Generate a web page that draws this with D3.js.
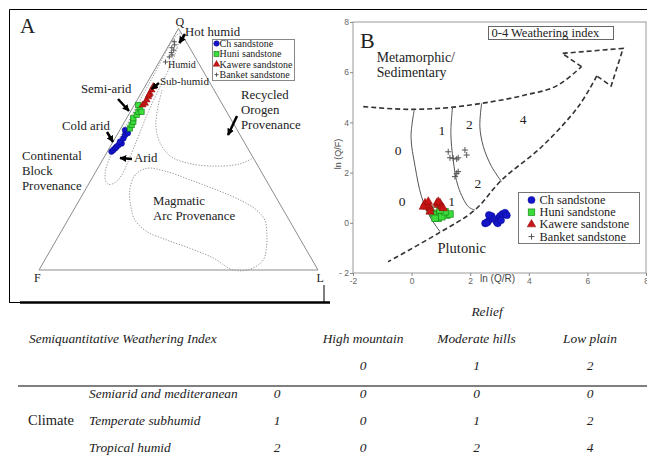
<!DOCTYPE html>
<html>
<head>
<meta charset="utf-8">
<script src="https://cdn.jsdelivr.net/npm/d3@7"></script>
<style>
body { margin: 0; background: #fff; }
svg { display: block; font-family: "Liberation Serif", "Times New Roman", serif; }
</style>
</head>
<body>
<svg width="647" height="465"></svg>
<script>
// Panel A: QFL ternary, values are [Q, F, L] in %
var chA = [[49,49.5,1.5],[49.7,48.5,1.8],[50.4,47.5,2.1],[51,46.7,2.3],[51.7,45.7,2.6],[52.4,44.2,3.4],
           [53.1,44.4,2.5],[54.5,42.5,3],[55.9,41.2,2.9],[57.2,40,2.8],[57.9,40.2,1.9],[56.7,39.8,3.5]];
var huniA = [[58.6,38.1,3.3],[60,36.8,3.2],[61.4,35.5,3.1],[62.8,34.8,2.4],[64.2,32.9,2.9],[65.5,31.6,2.9],
             [66.9,30.4,2.7],[68.3,30.3,1.4],[65.5,30.5,4]];
var kawereA = [[68.3,28.7,3],[69,27.5,3.5],[70.4,26.2,3.4],[71.7,25,3.3],[73.1,23.7,3.2],[74.5,22.4,3.1],
               [75.9,21.1,3],[72.4,24.4,3.2]];
var banketA = [[94.5,4.3,1.2],[93.2,4.8,2],[92,6.4,1.6],[91,6.2,2.8],[90,7.6,2.4],[89,7.8,3.2],
               [88.2,9.2,2.6],[86.1,11.6,2.3]];

// provenance / climate fields, [Q, L] in %
var fieldClimate = [[98,1.5],[92,3.5],[85,4.8],[75,5.5],[65,6.5],[55,8],[45,9.5],[39,10],[36,9],
                    [35.5,7],[37.5,5],[42,3],[50,1.8],[65,1.2],[80,0.8],[96,0.5]];
var fieldOrogen = [[74.5,6.9],[67.5,8.9],[59.2,12.3],[52.6,17.1],[47.2,23.4],[44.3,30.9],[43,40.9],
                   [43.9,50],[46.4,53.6]];
var fieldArc = [[42.1,17.6],[39.3,14.8],[33.1,16],[26.1,19.9],[20.7,24],[15.9,30.7],[12.4,39.6],[9,49.6],
                [4.9,60.1],[0,69.6],[0.3,75.4],[4.1,78.3],[10.4,76.4],[15.3,74],[20.7,70.6],[24.8,65.6],
                [29,57.5],[33.1,47.2],[37.3,35.5],[40.7,25.5]];

// Panel B: [ln(Q/R), ln(Q/F)]
var chB = [[2.51,-0.02],[2.6,0.04],[2.68,0.14],[2.73,0.27],[2.64,0.31],[2.9,0.04],[2.96,0.18],[3.02,0.27],
           [3.1,0.35],[3.19,0.4],[2.94,-0.02],[2.56,0],[3.25,0.3],[3.05,0.1]];
var huniB = [[0.74,0.38],[0.86,0.31],[0.97,0.38],[1.08,0.38],[1.2,0.31],[1.31,0.35],[0.91,0.18],[0.8,0.18],
             [1.03,0.24],[1.14,0.44],[0.63,0.51],[0.97,0.51]];
var kawereB = [[0.46,0.78],[0.57,0.71],[0.52,0.64],[0.63,0.58],[0.63,0.44],[0.86,0.78],[0.91,0.71],
               [0.97,0.78],[1.03,0.64],[0.4,0.64],[0.57,0.84],[0.91,0.84],[1.08,0.58]];
var banketB = [[1.25,2.83],[1.31,2.59],[1.42,2.57],[1.54,2.54],[1.59,2.59],[1.82,2.9],[1.88,2.7],
               [1.48,1.84],[1.59,2.04],[1.54,1.97]];

var topBoundary = [[-1.65,4.63],[0,4.52],[1.37,4.6],[2.39,4.76],[3.87,5.09],[5,5.49],[5.8,6.22]];
var arrowHead = [[5.8,6.22],[5.14,6.75],[7.22,6.95],[6.81,5.45],[6.32,5.85]];
var lowBoundary = [[6.32,5.85],[5.69,4.63],[4.44,3.03],[3.07,1.7],[2.16,0.51],[0.91,-0.42],[-0.8,-1.55]];
var line01 = [[0.09,4.49],[-0.02,3.43],[0.12,2.24],[0.34,1.04],[0.63,0.24],[0.97,-0.35]];
var line12 = [[1.4,4.65],[1.34,3.57],[1.42,2.5],[1.59,1.44],[1.94,0.64],[2.16,0.51]];
var line24 = [[2.39,4.76],[2.33,3.83],[2.45,3.03],[2.73,2.24],[3.07,1.64]];
var indexLabels = [["0",-0.46,2.9],["1",1.03,3.66],["2",1.97,3.9],["4",3.81,4.12],
                   ["0",-0.32,0.84],["1",1.37,0.84],["2",2.26,1.57]];
var bTicks = [-2,0,2,4,6,8];

// table
var reliefCols = ["High mountain", "Moderate hills", "Low plain"];
var reliefIdx = [0, 1, 2];
var climateRows = ["Semiarid and mediteranean", "Temperate subhumid", "Tropical humid"];
var climateIdx = [0, 1, 2];
var indexTable = [[0,0,0],[0,1,2],[0,2,4]];

var seriesNames = ["Ch sandstone", "Huni sandstone", "Kawere sandstone", "Banket sandstone"];
var seriesTypes = ["circle", "square", "triangle", "cross"];

function marker(g, type, x, y, s) {
    if (type == "circle") {
        g.append("circle").attr("cx", x).attr("cy", y).attr("r", s * 0.55)
            .attr("fill", "#1414c8").attr("stroke", "#0a0a90").attr("stroke-width", 0.5);
    } else if (type == "square") {
        g.append("rect").attr("x", x - s / 2).attr("y", y - s / 2).attr("width", s).attr("height", s)
            .attr("fill", "#3ddc3d").attr("stroke", "#178a17").attr("stroke-width", 0.7);
    } else if (type == "triangle") {
        g.append("path").attr("d", d3.symbol().type(d3.symbolTriangle).size(s * s * 0.75)())
            .attr("transform", "translate(" + x + "," + y + ")")
            .attr("fill", "#c81414").attr("stroke", "#8a0c0c").attr("stroke-width", 0.5);
    } else {
        var h = s * 0.5;
        g.append("path").attr("d", "M" + (x - h) + "," + y + "H" + (x + h) + "M" + x + "," + (y - h) + "V" + (y + h))
            .attr("stroke", "#555").attr("stroke-width", 1).attr("fill", "none");
    }
}

function label(g, txt, x, y, size, anchor) {
    return g.append("text").attr("x", x).attr("y", y).attr("font-size", size + "px")
        .attr("text-anchor", anchor || "start").attr("fill", "#222").text(txt);
}

function main() {
    var svg = d3.select("svg");
    svg.append("rect").attr("width", 647).attr("height", 465).attr("fill", "#fff");

    var defs = svg.append("defs");
    defs.append("marker").attr("id", "ah").attr("viewBox", "0 0 10 10").attr("refX", 9).attr("refY", 5)
        .attr("markerWidth", 7).attr("markerHeight", 7).attr("markerUnits", "userSpaceOnUse")
        .attr("orient", "auto")
        .append("path").attr("d", "M0,0L10,5L0,10z").attr("fill", "#000");

    // frame lines
    svg.append("path").attr("d", "M9.5,302V9.5H647").attr("stroke", "#000").attr("fill", "none");
    svg.append("line").attr("x1", 20).attr("x2", 330).attr("y1", 302.5).attr("y2", 302.5)
        .attr("stroke", "#000").attr("stroke-width", 2.5);
    svg.append("line").attr("x1", 9).attr("x2", 20).attr("y1", 302.5).attr("y2", 302.5).attr("stroke", "#000");
    svg.append("line").attr("x1", 324).attr("x2", 324).attr("y1", 285).attr("y2", 302).attr("stroke", "#000");

    // ---------- panel A ----------
    var gA = svg.append("g");
    var tx = d3.scaleLinear().domain([0, 100]).range([39, 318]);
    var ty = d3.scaleLinear().domain([0, 100]).range([270, 28.4]);
    function proj(q, l) { return [tx(l + q / 2), ty(q)]; }

    gA.append("path")
        .attr("d", d3.line()([proj(100, 0), proj(0, 0), proj(0, 100)]) + "Z")
        .attr("fill", "none").attr("stroke", "#8c8c8c").attr("stroke-width", 1);

    var fieldLine = d3.line().x(function (d) { return proj(d[0], d[1])[0]; })
        .y(function (d) { return proj(d[0], d[1])[1]; });
    [[fieldClimate, d3.curveCatmullRomClosed], [fieldArc, d3.curveCatmullRomClosed], [fieldOrogen, d3.curveCatmullRom]]
        .forEach(function (f) {
            gA.append("path").attr("d", fieldLine.curve(f[1])(f[0]))
                .attr("fill", "none").attr("stroke", "#9a9a9a").attr("stroke-width", 1)
                .attr("stroke-dasharray", "1.3,1.5");
        });

    var setsA = [chA, huniA, kawereA, banketA];
    setsA.forEach(function (set, i) {
        set.forEach(function (d) {
            var p = proj(d[0], d[2]);
            marker(gA, seriesTypes[i], p[0], p[1], i == 3 ? 5 : 5.3);
        });
    });

    // annotation arrows
    var arrowsA = [[185,34,179.5,43],[159,83,151.5,89],[118,99,129,111],[107,132,113,142],[132,159,120,158],[237,116,228,135]];
    arrowsA.forEach(function (a) {
        gA.append("line").attr("x1", a[0]).attr("y1", a[1]).attr("x2", a[2]).attr("y2", a[3])
            .attr("stroke", "#000").attr("stroke-width", 2.5).attr("marker-end", "url(#ah)");
    });

    label(gA, "A", 20, 33, 21);
    label(gA, "Q", 175.5, 25.5, 12);
    label(gA, "F", 34, 281.5, 12);
    label(gA, "L", 316.5, 281.5, 12);
    label(gA, "Hot humid", 185, 36, 12.8);
    label(gA, "Humid", 168, 67.5, 10);
    label(gA, "Sub-humid", 160, 84.5, 11);
    label(gA, "Semi-arid", 81, 93, 12.8);
    label(gA, "Cold arid", 62, 129.5, 12.8);
    label(gA, "Arid", 134, 162, 12.8);
    ["Continental", "Block", "Provenance"].forEach(function (t, i) { label(gA, t, 22, 159.5 + i * 15, 12.8); });
    ["Recycled", "Orogen", "Provenance"].forEach(function (t, i) { label(gA, t, 241, 98.5 + i * 15.3, 12.8); });
    label(gA, "Magmatic", 153, 205, 12.8);
    label(gA, "Arc Provenance", 153, 219.5, 12.8);

    var legA = gA.append("g");
    legA.append("rect").attr("x", 212.5).attr("y", 39.5).attr("width", 82).attr("height", 41)
        .attr("fill", "#fff").attr("stroke", "#888");
    seriesNames.forEach(function (n, i) {
        var yy = 43.5 + i * 10.4;
        marker(legA, seriesTypes[i], 216.5, yy, i == 3 ? 4 : 5);
        label(legA, n, 219.5, yy + 3.3, 10);
    });

    // ---------- panel B ----------
    var gB = svg.append("g");
    var bx = d3.scaleLinear().domain([-2, 8]).range([353, 646]);
    var by = d3.scaleLinear().domain([-2, 8]).range([273, 22]);

    gB.append("rect").attr("x", 353).attr("y", 22).attr("width", 293).attr("height", 251)
        .attr("fill", "none").attr("stroke", "#9a9a9a");

    var yAxis = gB.append("g").attr("transform", "translate(353,0)")
        .call(d3.axisLeft(by).tickValues(bTicks).tickSize(3)
            .tickFormat(function (d) { return d < 0 ? "- " + (-d) : d; }));
    var xAxis = gB.append("g").attr("transform", "translate(0,273)")
        .call(d3.axisBottom(bx).tickValues(bTicks).tickSize(3).tickFormat(function (d) { return String(d); }));
    [yAxis, xAxis].forEach(function (ax) {
        ax.select(".domain").remove();
        ax.selectAll("line").attr("stroke", "#888");
        ax.selectAll("text").attr("fill", "#666").attr("font-size", "8.5px")
            .attr("font-family", "Liberation Sans, Arial, sans-serif");
    });
    yAxis.selectAll("text").attr("x", -4);
    xAxis.selectAll("text").attr("y", 5);

    gB.append("text").attr("transform", "translate(341,154) rotate(-90)").attr("text-anchor", "middle")
        .attr("font-family", "Liberation Sans, Arial, sans-serif").attr("font-size", "9px").attr("fill", "#444")
        .text("ln (Q/F)");
    gB.append("text").attr("x", 480).attr("y", 282).attr("font-family", "Liberation Sans, Arial, sans-serif")
        .attr("font-size", "10px").attr("fill", "#444").text("ln (Q/R)");

    var lineB = d3.line().x(function (d) { return bx(d[0]); }).y(function (d) { return by(d[1]); });
    var dashStyle = function (p) {
        p.attr("fill", "none").attr("stroke", "#333").attr("stroke-width", 1.6).attr("stroke-dasharray", "5,3");
    };
    gB.append("path").attr("d", lineB.curve(d3.curveMonotoneX)(topBoundary)).call(dashStyle);
    gB.append("path").attr("d", lineB.curve(d3.curveLinear)(arrowHead)).call(dashStyle);
    gB.append("path").attr("d", lineB.curve(d3.curveCatmullRom)(lowBoundary)).call(dashStyle);
    [line01, line12, line24].forEach(function (l) {
        gB.append("path").attr("d", lineB.curve(d3.curveCatmullRom)(l))
            .attr("fill", "none").attr("stroke", "#555").attr("stroke-width", 1);
    });

    indexLabels.forEach(function (d) { label(gB, d[0], bx(d[1]), by(d[2]) + 4.5, 13.5, "middle"); });
    label(gB, "B", 360, 48, 22);
    label(gB, "Metamorphic/", 376.7, 62, 13.8);
    label(gB, "Sedimentary", 376.7, 77, 13.8);
    label(gB, "Plutonic", bx(1.71), 253, 14.5, "middle");

    gB.append("rect").attr("x", 488.5).attr("y", 26.5).attr("width", 125).attr("height", 13)
        .attr("fill", "#fff").attr("stroke", "#666");
    label(gB, "0-4 Weathering index", 491.5, 37, 12.5);

    var setsB = [chB, huniB, kawereB, banketB];
    setsB.forEach(function (set, i) {
        set.forEach(function (d) { marker(gB, seriesTypes[i], bx(d[0]), by(d[1]), i == 3 ? 6 : 6.5); });
    });

    var legB = gB.append("g");
    legB.append("rect").attr("x", 518.5).attr("y", 192.5).attr("width", 121).attr("height", 51)
        .attr("fill", "#fff").attr("stroke", "#777");
    seriesNames.forEach(function (n, i) {
        var yy = 200 + i * 12.2;
        marker(legB, seriesTypes[i], 531.5, yy, i == 3 ? 6 : 6.5);
        label(legB, n, 539.5, yy + 4, 12.3);
    });

    // ---------- table ----------
    var gT = svg.append("g").attr("font-style", "italic");
    var colX = d3.scalePoint().domain(reliefCols).range([363, 590]);
    var rowY = d3.scalePoint().domain(climateRows).range([398, 452]);

    label(gT, "Relief", 487, 316, 13.4, "middle");
    label(gT, "Semiquantitative Weathering Index", 29, 343, 13.4);
    reliefCols.forEach(function (c, i) {
        label(gT, c, colX(c), 343, 13.4, "middle");
        label(gT, reliefIdx[i], colX(c), 369.5, 13.4, "middle");
    });
    gT.append("line").attr("x1", 18).attr("x2", 647).attr("y1", 386).attr("y2", 386)
        .attr("stroke", "#000").attr("stroke-width", 1.2);
    label(gT, "Climate", 28, 425, 14.5).attr("font-style", "normal");
    climateRows.forEach(function (r, i) {
        label(gT, r, 89, rowY(r), 13.4);
        label(gT, climateIdx[i], 277, rowY(r), 13.4, "middle");
        reliefCols.forEach(function (c, j) {
            label(gT, indexTable[i][j], colX(c), rowY(r), 13.4, "middle");
        });
    });
}
main();
</script>
</body>
</html>
